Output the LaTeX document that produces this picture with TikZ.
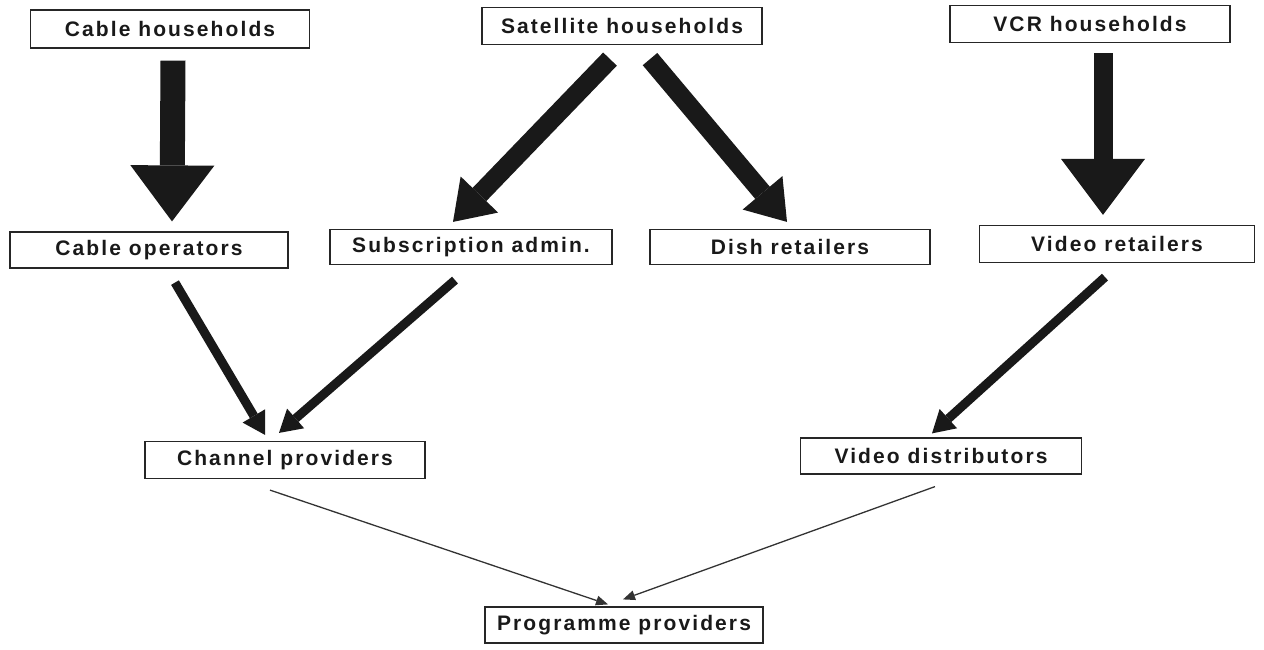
\documentclass[tikz,border=0pt]{standalone}
\usepackage{fontspec}
\newfontfamily\boxfont[LetterSpace=10]{Liberation Sans}
\usetikzlibrary{arrows.meta}

\begin{document}
\begin{tikzpicture}[x=1pt, y=-1pt,
        box/.style={draw=black!85, line width=1.2pt, minimum width=280pt, minimum height=36pt, inner sep=0pt,
            text=black!90, font={\boxfont\bfseries\fontsize{21}{24}\selectfont}},
        bigarrow/.style={black!90, line width=#1, -{Triangle[length=56pt, width=84pt, line width=0pt]}},
        slantarrow/.style={black!90, line width=19pt, -{Triangle[length=38pt, width=52pt, line width=0pt]}},
        midarrow/.style={black!90, line width=9pt, -{Triangle[length=22pt, width=26pt, line width=0pt]}},
        thinarrow/.style={black!80, line width=1.3pt, -{Triangle[length=12pt, width=10pt, line width=0pt]}}]
            \useasboundingbox (0,0) rectangle (1264,650);

            % households
            \node[box, minimum width=279pt, minimum height=38pt] (cable) at (170, 29) {Cable households};
            \node[box, minimum height=37pt] (sat) at (622, 26) {Satellite households};
            \node[box, minimum height=37pt] (vcr) at (1090, 24) {VCR households};

            % intermediaries
            \node[box, minimum width=278pt] (cableop) at (149, 250) {Cable operators};
            \node[box, minimum width=282pt, minimum height=35pt] (subs) at (471, 247) {Subscription admin.};
            \node[box, minimum height=35pt] (dish) at (790, 247) {Dish retailers};
            \node[box, minimum width=275pt, minimum height=37pt] (vret) at (1117, 244) {Video retailers};

            \node[box, minimum height=37pt] (chan) at (285, 460) {Channel providers};
            \node[box, minimum width=281pt] (vdist) at (941, 456) {Video distributors};

            \node[box, minimum width=278pt] (prog) at (624, 625) {Programme providers};

            % block arrows
            \draw[bigarrow=25pt] ([shift={(3,12)}]cable.south) -- ([shift={(23,-10)}]cableop.north);
            \draw[bigarrow=19pt] ([shift={(13,10)}]vcr.south) -- ([shift={(-14,-10)}]vret.north);
            \draw[slantarrow] ([shift={(-12,14)}]sat.south) -- ([shift={(-18,-7)}]subs.north);
            \draw[slantarrow] ([shift={(28,14)}]sat.south) -- ([shift={(-3,-7)}]dish.north);

            \draw[midarrow] ([shift={(26,14)}]cableop.south) -- ([shift={(-20,-6)}]chan.north);
            \draw[midarrow] ([shift={(-16,15)}]subs.south) -- ([shift={(-6,-8)}]chan.north);
            \draw[midarrow] ([shift={(-12,14)}]vret.south) -- ([shift={(-9,-4)}]vdist.north);

            \draw[thinarrow] ([shift={(-15,11)}]chan.south) -- ([shift={(-16,-2)}]prog.north);
            \draw[thinarrow] ([shift={(-6,12)}]vdist.south) -- ([shift={(-1,-7)}]prog.north);

\end{tikzpicture}
\end{document}
